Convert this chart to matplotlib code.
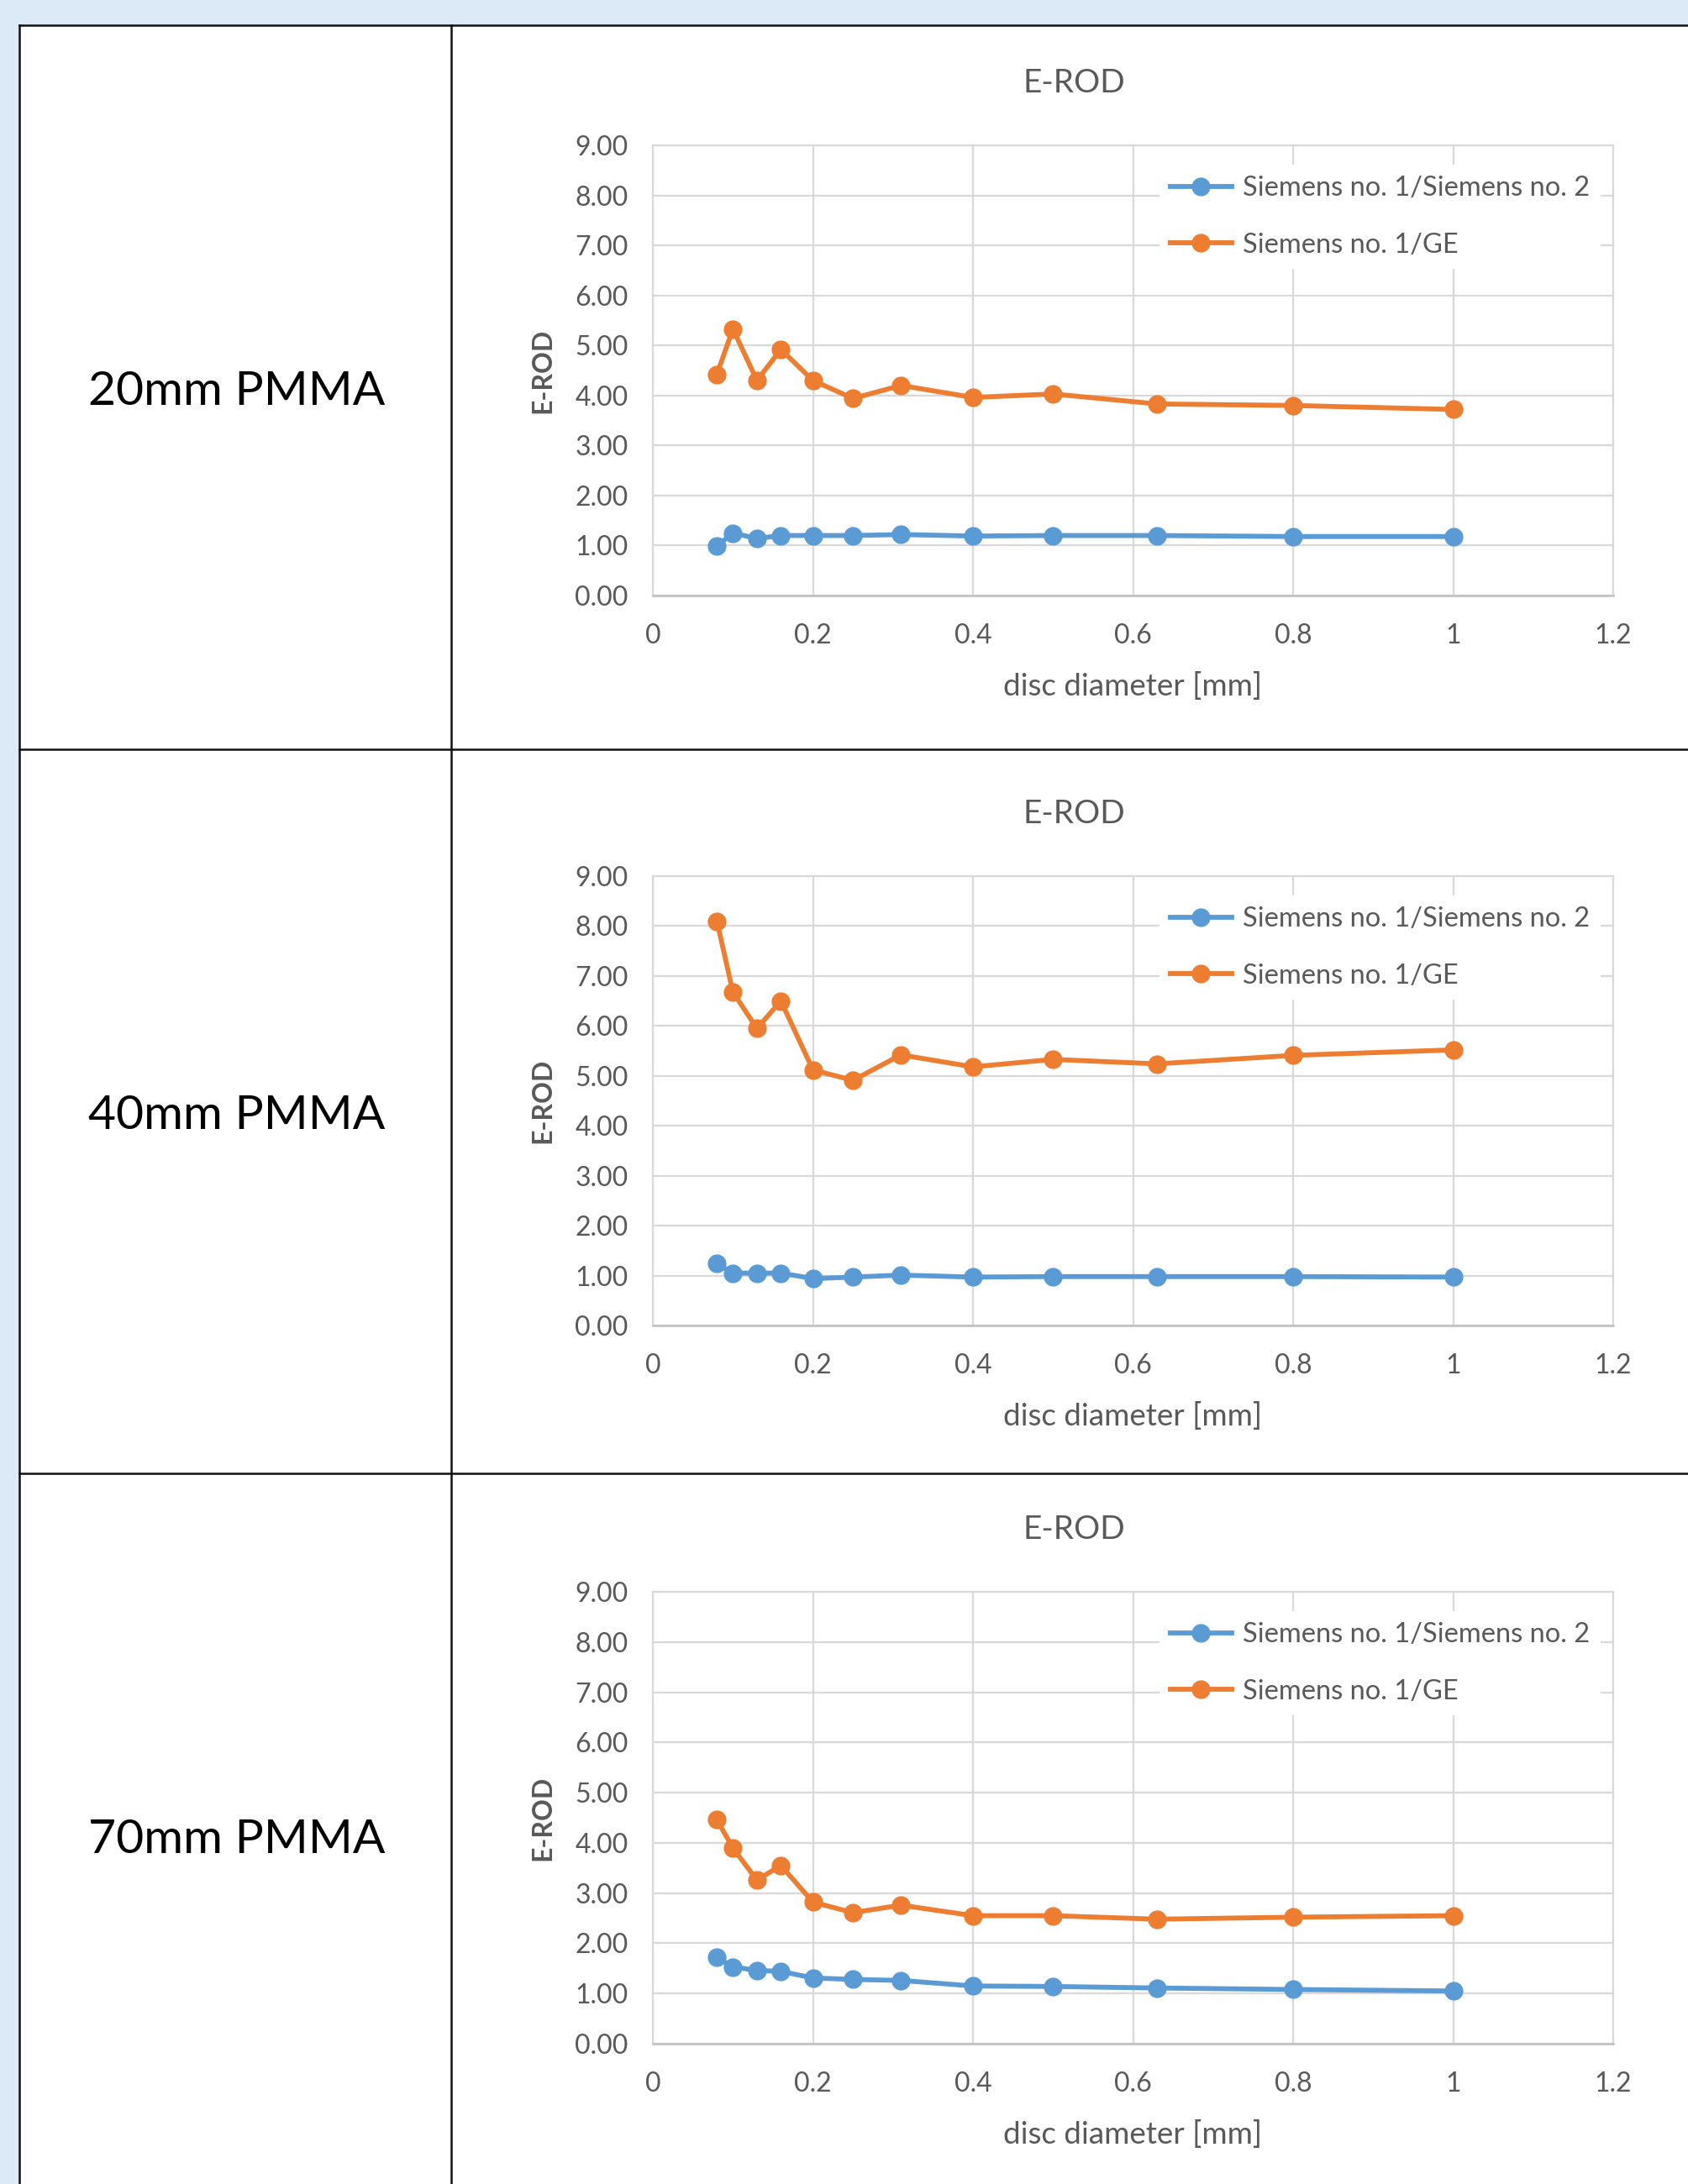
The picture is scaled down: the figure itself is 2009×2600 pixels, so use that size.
import matplotlib.pyplot as plt
from matplotlib.lines import Line2D
from matplotlib.patches import Rectangle
from matplotlib.ticker import FuncFormatter, MultipleLocator

plt.rcParams['font.family'] = ['Lato', 'DejaVu Sans']

# disc diameters of the contrast-detail phantom [mm]
disc_diameter = [0.08, 0.10, 0.13, 0.16, 0.20, 0.25, 0.31, 0.40, 0.50, 0.63, 0.80, 1.00]

phantoms = ["20mm PMMA", "40mm PMMA", "70mm PMMA"]
series_names = ["Siemens no. 1/Siemens no. 2", "Siemens no. 1/GE"]

# E-ROD ratios, one list per phantom thickness
siemens2_20mm = [0.99, 1.25, 1.14, 1.20, 1.20, 1.20, 1.22, 1.19, 1.20, 1.20, 1.18, 1.18]
ge_20mm = [4.42, 5.33, 4.30, 4.92, 4.30, 3.94, 4.20, 3.96, 4.03, 3.83, 3.80, 3.72]

siemens2_40mm = [1.24, 1.05, 1.05, 1.05, 0.94, 0.97, 1.01, 0.97, 0.98, 0.98, 0.98, 0.97]
ge_40mm = [8.10, 6.68, 5.95, 6.50, 5.12, 4.91, 5.42, 5.18, 5.33, 5.24, 5.41, 5.52]

siemens2_70mm = [1.72, 1.53, 1.46, 1.44, 1.31, 1.28, 1.26, 1.15, 1.14, 1.11, 1.08, 1.05]
ge_70mm = [4.46, 3.90, 3.26, 3.55, 2.82, 2.61, 2.76, 2.55, 2.55, 2.48, 2.52, 2.55]

siemens2 = [siemens2_20mm, siemens2_40mm, siemens2_70mm]
ge = [ge_20mm, ge_40mm, ge_70mm]

W, H = 2009, 2600
BLUE = '#5B9BD5'
ORANGE = '#ED7D31'
GREY_TXT = '#595959'
GRID = '#D9D9D9'


def fx(x):
    return x / W


def fy(y):
    return 1 - y / H


fig = plt.figure(figsize=(W / 100, H / 100), dpi=100)
fig.patch.set_facecolor('#DCE9F6')

# white table body on the blue page
fig.add_artist(Rectangle((fx(23), 0), 1 - fx(23), fy(30), transform=fig.transFigure,
                         facecolor='white', edgecolor='none', zorder=0))

border = dict(color='#111111', linewidth=1.8, transform=fig.transFigure)
fig.add_artist(Line2D([fx(23), 1], [fy(30), fy(30)], **border))
fig.add_artist(Line2D([fx(23), fx(23)], [0, fy(30)], **border))
fig.add_artist(Line2D([fx(537), fx(537)], [0, fy(30)], **border))
for y in (892, 1754):
    fig.add_artist(Line2D([fx(23), 1], [fy(y), fy(y)], **border))

# plot area edges in pixels: (top, bottom)
plot_rows = [(173, 709), (1043, 1578), (1895, 2433)]
label_rows = [467, 1329, 2191]
left, right = 777, 1920

for i, (top, bottom) in enumerate(plot_rows):
    fig.text(fx(282), fy(label_rows[i]), phantoms[i], fontsize=41, ha='center', va='center',
             color='black')

    ax = fig.add_axes([fx(left), fy(bottom), fx(right - left), (bottom - top) / H])
    ax.plot(disc_diameter, siemens2[i], color=BLUE, linewidth=4.2, marker='o',
            markersize=15, label=series_names[0], zorder=3)
    ax.plot(disc_diameter, ge[i], color=ORANGE, linewidth=4.2, marker='o',
            markersize=15, label=series_names[1], zorder=3)

    ax.set_xlim(0, 1.2)
    ax.set_ylim(0, 9)
    ax.xaxis.set_major_locator(MultipleLocator(0.2))
    ax.yaxis.set_major_locator(MultipleLocator(1))
    ax.xaxis.set_major_formatter(FuncFormatter(lambda v, p: f"{v:g}"))
    ax.yaxis.set_major_formatter(FuncFormatter(lambda v, p: f"{v:.2f}"))
    ax.grid(True, color=GRID, linewidth=1.6)
    ax.set_axisbelow(True)
    ax.tick_params(length=0, labelsize=23, colors=GREY_TXT)
    ax.tick_params(axis='y', pad=21)
    ax.tick_params(axis='x', pad=24)
    for side in ('top', 'right', 'left'):
        ax.spines[side].set_color(GRID)
        ax.spines[side].set_linewidth(1.6)
    ax.spines['bottom'].set_color('#BFBFBF')
    ax.spines['bottom'].set_linewidth(1.8)

    leg = ax.legend(loc='upper left', bbox_to_anchor=(0.513, 0.987), fontsize=23.5,
                    frameon=True, framealpha=1, facecolor='white', edgecolor='none',
                    handlelength=2.25, handletextpad=0.4, labelspacing=1.15,
                    borderpad=0.4, fancybox=False, numpoints=1)
    for t in leg.get_texts():
        t.set_color(GREY_TXT)

    fig.text(fx(1278), fy(top - 74), "E-ROD", fontsize=28, color=GREY_TXT,
             ha='center', va='center')
    fig.text(fx((left + right) / 2), fy(bottom + 108), "disc diameter [mm]", fontsize=26.5,
             color=GREY_TXT, ha='center', va='center')
    fig.text(fx(646), fy((top + bottom) / 2), "E-ROD", fontsize=23, fontweight='bold',
             color=GREY_TXT, ha='center', va='center', rotation=90)

fig.savefig('out.png', dpi=100, facecolor=fig.get_facecolor())
